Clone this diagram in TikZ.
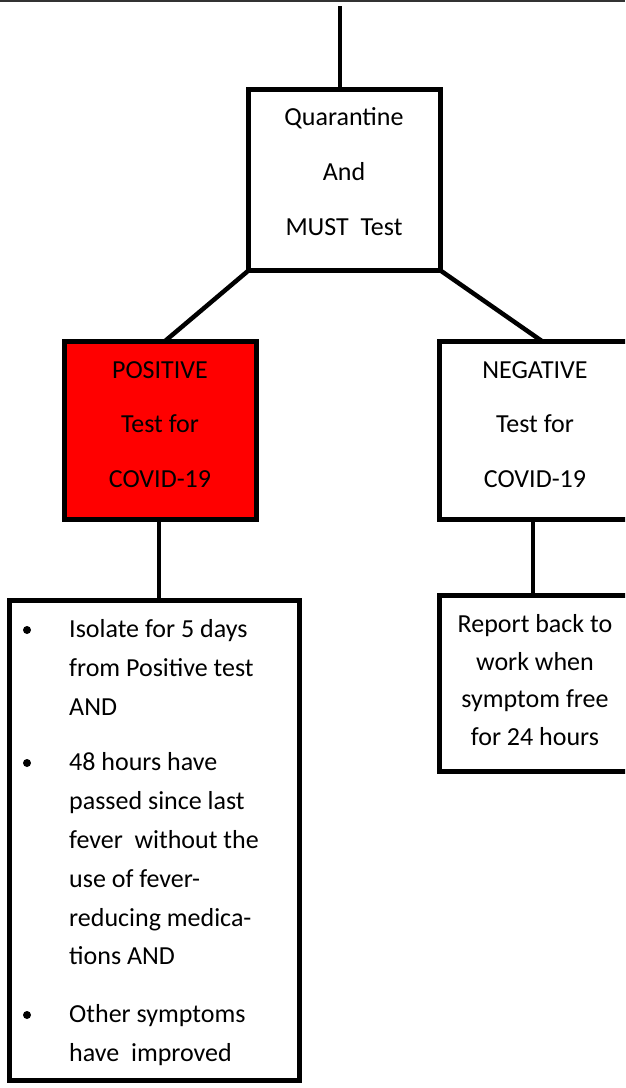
\documentclass[tikz,border=0pt]{standalone}
\usepackage{fontspec}
\setmainfont{Carlito}
\begin{document}
\begin{tikzpicture}[x=1pt,y=-1pt,
  box/.style={draw=black, line width=5pt, rectangle, inner sep=0pt, outer sep=0pt},
  conn/.style={draw=black, line width=4.5pt},
  txt/.style={font=\fontsize{26}{30}\selectfont, inner sep=0pt, anchor=base},
  ltxt/.style={font=\fontsize{26}{30}\selectfont, inner sep=0pt, anchor=base west},
  dot/.style={circle, fill=black, minimum size=8pt, inner sep=0pt}]
\useasboundingbox (0,0) rectangle (625,1088);
\clip (0,0) rectangle (625,1088);
\fill[white] (0,0) rectangle (625,1088);
% thin rule at the top
\draw[line width=2pt, color=black!80] (0,1) -- (625,1);
% boxes
\node[box, minimum width=192pt, minimum height=181pt] (q) at (344.5,180) {};
\node[box, fill={rgb,255:red,255;green,0;blue,0}, minimum width=192pt, minimum height=178pt] (p) at (160.5,430.5) {};
\node[box, minimum width=192pt, minimum height=178pt] (n) at (535.5,430.5) {};
\node[box, minimum width=192pt, minimum height=176pt] (r) at (535.5,683.5) {};
\node[box, minimum width=290pt, minimum height=480pt] (b) at (154.5,840.5) {};
% connectors
\coordinate (top) at (340,6);
\draw[conn] (top) -- (top |- q.north);
\draw[conn] (q.south west) -- ([xshift=4pt]p.north);
\draw[conn] (q.south east) -- ([xshift=7pt]n.north);
\draw[conn] ([xshift=-1.5pt]p.south) -- ([xshift=-1.5pt]p.south |- b.north);
\draw[conn] ([xshift=-2.5pt]n.south) -- ([xshift=-2.5pt]n.south |- r.north);
% texts: quarantine
\node[txt] (q1) at (344,125) {Quarantine};
\node[txt] (q2) at (344,180) {And};
\node[txt] (q3) at (344,235) {MUST\ \ Test};
% positive
\node[txt] (p1) at (160,378) {POSITIVE};
\node[txt] (p2) at (160,432) {Test for};
\node[txt] (p3) at (160,487) {COVID-19};
% negative
\node[txt] (n1) at (535,378) {NEGATIVE};
\node[txt] (n2) at (535,432) {Test for};
\node[txt] (n3) at (535,487) {COVID-19};
% report
\node[txt] (r1) at (535,632) {Report back to};
\node[txt] (r2) at (535,670) {work when};
\node[txt] (r3) at (535,707) {symptom free};
\node[txt] (r4) at (535,745) {for 24 hours};
% bullets
\node[dot] (d1) at (27,630) {};
\node[dot] (d2) at (27,763) {};
\node[dot] (d3) at (27,1015) {};
\node[ltxt] (b1) at (69,637) {Isolate for 5 days};
\node[ltxt] (b2) at (69,676) {from Positive test};
\node[ltxt] (b3) at (69,715) {AND};
\node[ltxt] (b4) at (69,770) {48 hours have};
\node[ltxt] (b5) at (69,809) {passed since last};
\node[ltxt] (b6) at (69,848) {fever\ \ without the};
\node[ltxt] (b7) at (69,887) {use of fever-};
\node[ltxt] (b8) at (69,926) {reducing medica-};
\node[ltxt] (b9) at (69,964) {tions AND};
\node[ltxt] (b10) at (69,1022) {Other symptoms};
\node[ltxt] (b11) at (69,1061) {have\ \ improved};
\end{tikzpicture}
\end{document}
